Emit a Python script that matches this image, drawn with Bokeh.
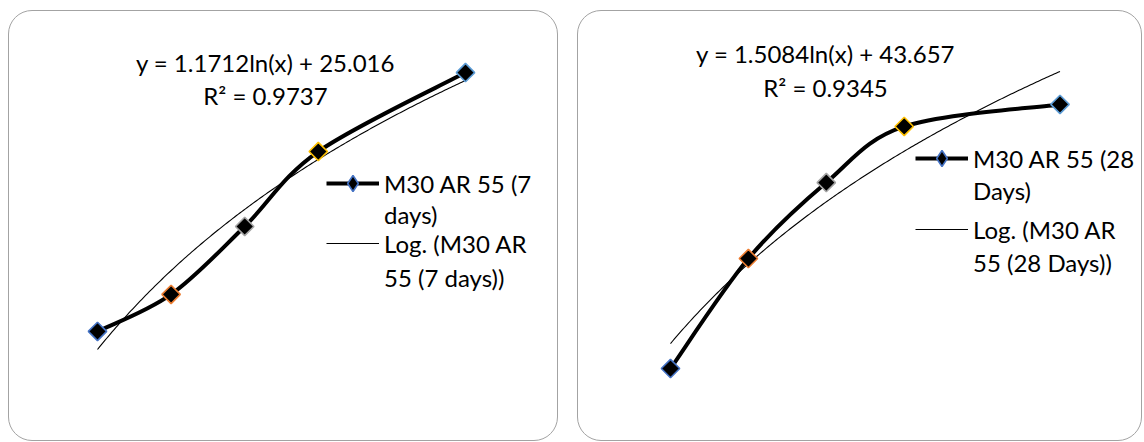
import numpy as np
from bokeh.plotting import figure
from bokeh.models import Label, Legend, LegendItem, Range1d, Spacer
from bokeh.layouts import row, column
from bokeh.embed import file_html
from bokeh.resources import INLINE

# ---------------- data ----------------
x_vals = [15, 20, 25, 30, 40]
y_7days = [28.265, 28.423, 28.713, 29.033, 29.370]
y_28days = [47.606, 48.204, 48.617, 48.922, 49.042]
point_outline = ["#4472C4", "#ED7D31", "#A5A5A5", "#FFC000", "#5B9BD5"]
trend_7days = (1.1712, 25.016)    # slope, intercept of log fit
trend_28days = (1.5084, 43.657)
eq_7days = ["y = 1.1712ln(x) + 25.016", "R² = 0.9737"]
eq_28days = ["y = 1.5084ln(x) + 43.657", "R² = 0.9345"]
series_7days = ["M30 AR 55 (7", "days)"]
trendname_7days = ["Log. (M30 AR", "55 (7 days))"]
series_28days = ["M30 AR 55 (28", "Days)"]
trendname_28days = ["Log. (M30 AR", "55 (28 Days))"]

FONT = "Lato"
FSIZE = "24px"
H = 431
GH = 40


def bezier_controls(xs, ys, t=1.0 / 6.0):
    xs = np.asarray(xs, float)
    ys = np.asarray(ys, float)
    px = np.concatenate([[xs[0]], xs, [xs[-1]]])
    py = np.concatenate([[ys[0]], ys, [ys[-1]]])
    out = dict(x0=[], y0=[], x1=[], y1=[], cx0=[], cy0=[], cx1=[], cy1=[])
    for i in range(len(xs) - 1):
        a, b, c, d = i, i + 1, i + 2, i + 3
        out["x0"].append(px[b]); out["y0"].append(py[b])
        out["x1"].append(px[c]); out["y1"].append(py[c])
        out["cx0"].append(px[b] + (px[c] - px[a]) * t)
        out["cy0"].append(py[b] + (py[c] - py[a]) * t)
        out["cx1"].append(px[c] - (px[d] - px[b]) * t)
        out["cy1"].append(py[c] - (py[d] - py[b]) * t)
    return out


def panel(width, xr, yr, ys, trend, eq, eq_pos, sname, tname, leg_x, leg_ys):
    p = figure(width=width, height=H, x_range=Range1d(*xr), y_range=Range1d(*yr),
               output_backend="svg", toolbar_location=None,
               x_axis_location=None, y_axis_location=None, min_border=0)
    p.grid.visible = False
    p.outline_line_color = None
    p.background_fill_color = None
    p.border_fill_color = None
    p.styles = {"border": "1.5px solid #a3a3a3", "border-radius": "24px",
                "box-sizing": "border-box"}

    # trendline from fitted coefficients
    xt = np.linspace(min(x_vals), max(x_vals), 200)
    tl = p.line(xt, trend[0] * np.log(xt) + trend[1], line_color="black", line_width=1.1)

    # smoothed data line
    p.bezier(**bezier_controls(x_vals, ys), line_color="black", line_width=4)
    p.scatter(x=x_vals, y=ys, marker="square", angle=np.pi / 4, size=13,
              fill_color="black", line_color=point_outline, line_width=1.6)

    # legend-only renderers (no visible data)
    legline = p.line(x=[np.nan], y=[np.nan], line_color="black", line_width=4)
    legmark = p.scatter(x=[np.nan], y=[np.nan], marker="diamond", fill_color="black",
                        line_color=point_outline[0], line_width=1.6)
    blank = p.line(x=[np.nan], y=[np.nan], line_alpha=0)

    for txt, (lx, ly) in zip(eq, eq_pos):
        p.add_layout(Label(x=lx, y=ly, text=txt, text_align="center", text_baseline="middle",
                           text_font=FONT, text_font_size=FSIZE, text_color="black"))

    common = dict(label_text_font=FONT, label_text_font_size=FSIZE, label_text_color="black",
                  glyph_width=53, glyph_height=GH, label_height=GH, label_standoff=5,
                  spacing=0, padding=0, margin=0, border_line_color=None,
                  background_fill_alpha=0)
    rows = [(sname[0], [legline, legmark]), (sname[1], [blank]),
            (tname[0], [tl]), (tname[1], [blank])]
    for (lab, rends), ly in zip(rows, leg_ys):
        p.add_layout(Legend(items=[LegendItem(label=lab, renderers=rends)],
                            location=(leg_x, ly - GH / 2), **common))
    return p


# legend row centres are given in pixels from the bottom of each panel
p1 = panel(550, (9.022, 46.386), (27.7906, 29.6309), y_7days, trend_7days, eq_7days,
           [(26.41, 29.413), (26.41, 29.272)], series_7days, trendname_7days,
           317, [259, 228, 199, 165])
p2 = panel(565, (9.095, 45.359), (47.204, 49.547), y_28days, trend_28days, eq_28days,
           [(24.95, 49.319), (24.95, 49.134)], series_28days, trendname_28days,
           337, [284, 252, 213, 180])

layout = column(Spacer(height=10), row(Spacer(width=8), p1, Spacer(width=19), p2))
open("out.html", "w").write(file_html(layout, INLINE))
